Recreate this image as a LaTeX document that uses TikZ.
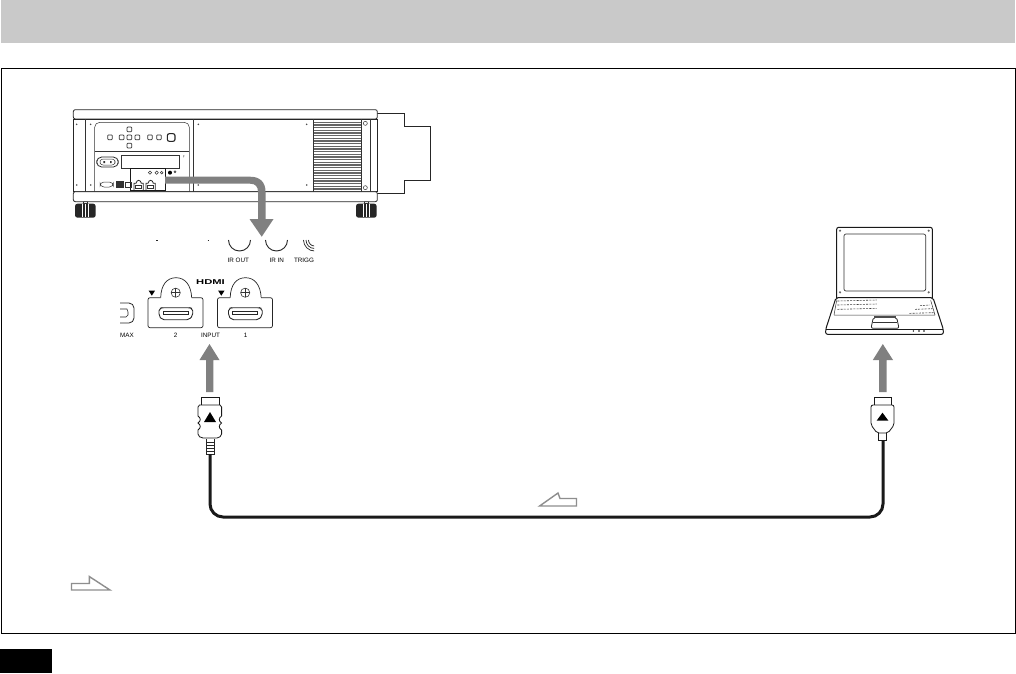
\documentclass[tikz,border=0pt]{standalone}
\usepackage{fontspec}
\setmainfont{Liberation Sans}
\tikzset{
  lbl/.style={inner sep=0pt,font=\fontsize{6.3}{7}\selectfont,text=black},
  bigarrow/.style={draw=none,fill=arrowgray},
  hollow/.style={draw=hollowgray,line width=1.4pt,fill=white,line join=miter},
  ln/.style={line width=0.8pt,draw=black!85},
  thn/.style={line width=0.5pt,draw=black!80},
  btn/.style={line width=0.7pt,draw=black!80,rounded corners=0.8pt},
  cable/.style={line width=3pt,draw=black!90,rounded corners=13pt},
  pics/hdmiport/.style={code={
    \draw[line width=0.7pt,draw=black!85,rounded corners=2pt] (12.7,20) -- (0,20) -- (0,50) -- (55,50) -- (55,20) -- (43.7,20);
    \draw[line width=0.7pt,draw=black!85] (12.7,20) .. controls (13,7) and (19,0) .. (28,0) .. controls (37,0) and (43,7) .. (43.7,20);
    \draw[line width=0.9pt,draw=black!85,rounded corners=2pt] (11,31) -- (14,30) -- (42,30) -- (44.7,31) -- (44.7,38) -- (41,42) -- (14,42) -- (11,38) -- cycle;
    \draw[line width=0.5pt,draw=black!85] (15,34) -- (40,34) -- (40,37) -- (15,37) -- cycle;
    \draw[line width=0.6pt,draw=black!80] (27.7,15) circle (4.6);
    \draw[line width=0.5pt,draw=black!80] (27.7,10.4) -- (27.7,19.6) (23.1,15) -- (32.3,15);
    \fill[black] (0.7,13) -- (7,13) -- (3.8,18) -- cycle;
  }}
}
\definecolor{arrowgray}{HTML}{808080}
\definecolor{hollowgray}{HTML}{8E8E8E}
\definecolor{headergray}{HTML}{C9C9C9}
\begin{document}
\begin{tikzpicture}[x=1pt,y=-1pt]
\useasboundingbox (0,0) rectangle (1016,673);
\fill[white] (0,0) rectangle (1016,673);
% page furniture
\fill[headergray] (1,0) rectangle (1015,43);
\draw[line width=0.9pt,black] (1.5,68) rectangle (1015,633);
\fill[black] (0,649) rectangle (52,673);

% projector (zoom coordinates)
\begin{scope}[shift={(60,95)},scale=0.33333]
  % lens
  \draw[ln,fill=white] (952,55) -- (1032,55) -- (1032,295) -- (952,295);
  \draw[ln,fill=white] (1032,95) -- (1110,95) -- (1110,255) -- (1032,255);
  \draw[thn,dotted] (947,75) -- (947,290);
  % feet
  \foreach \fx in {45,888}{
    \fill[black!85,rounded corners=2.5pt] (\fx,326) rectangle ++(62,42);
    \fill[white] (\fx+20,328) rectangle ++(3,38);
    \fill[white] (\fx+30,328) rectangle ++(3,38);
    \fill[white] (\fx+39,328) rectangle ++(2,38);
    \draw[thn,fill=white] (\fx+24,320) rectangle ++(12,6);
  }
  % body
  \draw[ln,fill=white,rounded corners=2pt] (40,44) rectangle (952,72);
  \draw[ln,fill=white] (40,72) rectangle (952,290);
  \draw[ln,fill=white,rounded corners=2pt] (40,290) rectangle (952,320);
  \draw[thn] (76,72) -- (76,290) (400,72) -- (400,290) (930,72) -- (930,290);
  \draw[thn] (760,72) -- (760,290) (905,72) -- (905,290);
  \draw[thn,rounded corners=5pt] (104,290) -- (104,82) -- (388,82) -- (388,290);
  \draw[thn] (104,170) -- (388,170);
  % vent
  \fill[black!60] (763,80) rectangle (902,288);
  \foreach \vy in {84,92,...,284}{
    \fill[white] (763,\vy) rectangle (902,\vy+3.6);
  }
  % screws
  \foreach \sx/\sy in {50/88,92/88,415/88,740/88,50/270,92/270,415/270,740/270}{
    \fill[black!70] (\sx,\sy) circle (2.7);
  }
  \draw[thn] (916,85) circle (6);
  \draw[thn] (916,278) circle (6);
  % buttons
  \foreach \bx/\by in {150/127,185/127,208/127,232/127,208/103,208/152,270/127,297/127}{
    \draw[btn] (\bx-7,\by-7) rectangle (\bx+7,\by+7);
  }
  \draw[line width=1.1pt,draw=black!85,rounded corners=2pt] (322,116) rectangle (345,139);
  % connector bay
  \draw[line width=0.8pt,draw=black!85,rounded corners=5pt] (110,186) rectangle (175,216);
  \draw[thn,rounded corners=3pt] (120,192) rectangle (165,210);
  \fill[black!80] (130,198) rectangle (135,204) (150,198) rectangle (155,204);
  \draw[thn] (185,182) rectangle (358,220);
  \fill[black!70] (370,181) -- (373,181) -- (371,188) -- cycle;
  \draw[line width=0.8pt,draw=black!90] (210,220) rectangle (315,285);
  \foreach \cx in {270,290}{\draw[thn] (\cx,233) circle (5);}
  \draw[thn] (305,233) circle (4);
  \fill[black] (330,233) circle (6);
  \draw[thn] (345,230) circle (3);
  \draw[thn,rounded corners=4pt] (120,261) rectangle (160,276);
  \draw[thn,fill=black!80] (168,258) rectangle (190,278);
  \draw[thn] (195,262) rectangle (215,276);
  \foreach \hx in {222,258}{
    \draw[ln] (\hx,285) -- (\hx,265) -- (\hx+6,265) .. controls (\hx+8,253) and (\hx+20,253) .. (\hx+22,265) -- (\hx+28,265) -- (\hx+28,285);
    \draw[thn] (\hx+5,272) rectangle (\hx+23,280);
  }
\end{scope}

% gray arrow projector -> panel
\coordinate (ptA) at (165,180);
\coordinate (ptB) at (261.7,236.7);
\path[bigarrow] (ptA) ++(0,-3.3) -- (250,176.7) .. controls (260,176.7) and (265.5,182) .. (265.5,192) -- (265.5,219) -- (273.5,219) -- (ptB) -- (249.5,219) -- (258,219) -- (258,192) .. controls (258,186.5) and (255.5,183.7) .. (250,183.7) -- (165,183.7) -- cycle;

% upper panel fragment
\draw[ln] (156,240.8) -- (157.5,240.8) (207.5,240.8) -- (209,240.8);
\draw[line width=0.9pt,draw=black!85] (228.5,240) arc[start angle=180,end angle=0,radius=11];
\draw[line width=0.9pt,draw=black!85] (265.5,240) arc[start angle=180,end angle=0,radius=11];
\begin{scope}
  \clip (303,235) rectangle (314,256);
  \draw[line width=0.7pt,draw=black!85] (303.5,240) arc[start angle=180,end angle=60,radius=11];
  \draw[line width=0.7pt,draw=black!85] (306,240) arc[start angle=180,end angle=60,radius=8.5];
  \draw[line width=0.7pt,draw=black!85] (308.5,240) arc[start angle=180,end angle=60,radius=6];
\end{scope}
\node[lbl] (irout) at (238.3,260.8) {IR OUT};
\node[lbl] (irin) at (276.7,260.8) {IR IN};
\node[lbl] (trigg) at (304,260.8) {TRIGG};

% HDMI ports
\pic at (148,277.7) {hdmiport};
\pic at (217.5,277.7) {hdmiport};
\node[inner sep=0pt,xscale=1.6,font=\fontsize{7}{8}\selectfont\bfseries,text=black] (hdmi) at (210.5,282.5) {HDMI};
% USB fragment
\draw[line width=0.8pt,draw=black!85,rounded corners=2pt] (120,303) -- (131,303) -- (134,306) -- (134,320) -- (131,323) -- (120,323);
\draw[line width=0.6pt,draw=black!85] (120,309) -- (127,309) -- (128,312) -- (128,315) -- (126,317) -- (120,317);
\node[lbl] (max) at (127,335) {MAX};
\node[lbl] (two) at (175.7,335) {2};
\node[lbl] (inp) at (210.5,335) {INPUT};
\node[lbl] (one) at (245.7,335) {1};

% laptop
\begin{scope}[shift={(810,215)},scale=0.33333]
  \draw[line width=1pt,draw=black!90,rounded corners=2pt] (80,250) -- (80,37) -- (367,37) -- (367,250);
  \draw[line width=0.7pt,draw=black!80,rounded corners=2pt] (102,57) rectangle (347,228);
  \foreach \sx/\sy in {90/47,356/47,90/232,356/232}{\fill[black!60] (\sx,\sy) circle (3.5);}
  \draw[line width=1pt,draw=black!90,fill=white,rounded corners=2pt] (78,248) -- (369,248) -- (400,343) -- (400,358) -- (47,358) -- (47,343) -- cycle;
  \draw[line width=1pt,draw=black!90] (47,344) -- (400,344);
  \draw[thn] (72,300) -- (375,300) (80,256) -- (72,300) (362,256) -- (375,300);
  \foreach \ky in {258,270,283}{
    \draw[line width=0.6pt,draw=black!75,dash pattern=on 2pt off 1.2pt] (82,\ky) -- (200,\ky-3);
  }
  \draw[line width=0.6pt,draw=black!75,dash pattern=on 2pt off 1.2pt] (330,272) -- (360,270);
  \draw[line width=0.6pt,draw=black!75,dash pattern=on 2pt off 1.2pt] (315,283) -- (368,281);
  \draw[line width=0.6pt,draw=black!75,dash pattern=on 2pt off 1.2pt] (298,295) -- (372,293);
  \draw[line width=0.8pt,draw=black!85,rounded corners=2pt] (190,307) -- (260,307) -- (267,340) -- (183,340) -- cycle;
  \draw[thn] (188,322) -- (262,322);
  \fill[black!70] (192,304) rectangle (258,309);
  \foreach \dx in {310,327,342}{\fill[black] (\dx,348) circle (2.5);}
\end{scope}

% gray up arrows
\coordinate (tipL) at (209.5,344);
\coordinate (tipR) at (882.8,344);
\path[bigarrow] (tipL) -- (219.5,360) -- (213.4,360) -- (213.4,392) -- (206,392) -- (206,360) -- (199.5,360) -- cycle;
\path[bigarrow] (tipR) -- (893,360) -- (886.7,360) -- (886.7,392) -- (879,392) -- (879,360) -- (872.8,360) -- cycle;

% left plug
\draw[line width=0.8pt,draw=black!90] (201,405) -- (201,397) -- (219,397) -- (219,405);
\draw[line width=0.8pt,draw=black!90,fill=white] (199.5,405) -- (220,405) -- (221.6,407)
  -- (221.6,416) .. controls (218.5,418) and (218.5,421) .. (221.6,423)
  .. controls (218.5,425) and (218.5,428) .. (221.6,430)
  -- (221.6,434) .. controls (221.6,436) and (219,438) .. (217,438) -- (203,438)
  .. controls (200.5,438) and (198,436) .. (198,434) -- (198,430)
  .. controls (201,428) and (201,425) .. (198,423)
  .. controls (201,421) and (201,418) .. (198,416) -- (198,407) -- cycle;
\fill[black] (210,412) -- (216,422) -- (204,422) -- cycle;
\draw[line width=0.7pt,draw=black!85] (206.7,439) -- (206.7,454) -- (214,454) -- (214,439);
\foreach \ry in {442,445,448,451}{\draw[line width=0.6pt,draw=black!85] (206.7,\ry) -- (214,\ry);}
% right plug
\draw[line width=0.8pt,draw=black!90] (874,405) -- (874,397) -- (891,397) -- (891,405);
\draw[line width=0.8pt,draw=black!90,fill=white,rounded corners=2pt] (871,405) -- (894,405) -- (894,425) -- (888,433) -- (877,433) -- (871,425) -- cycle;
\fill[black] (882.5,412.7) -- (888.4,420.7) -- (876.6,420.7) -- cycle;
\draw[line width=0.8pt,draw=black!90] (878,433) -- (878,440) -- (886.2,440) -- (886.2,433);

% cable
\coordinate (cabL) at (210,454);
\coordinate (cabLb) at (210,517);
\coordinate (cabRb) at (883,517);
\coordinate (cabR) at (883,440);
\draw[cable] (cabL) -- (cabLb) -- (cabRb) -- (cabR);

% hollow direction marks
\draw[hollow] (539.6,506) -- (558,493) -- (560,498.5) -- (576.5,498.5) -- (576.5,506) -- cycle;
\draw[hollow] (110,590) -- (89.3,576.5) -- (89.3,583.5) -- (71.5,583.5) -- (71.5,590) -- cycle;
\end{tikzpicture}
\end{document}
